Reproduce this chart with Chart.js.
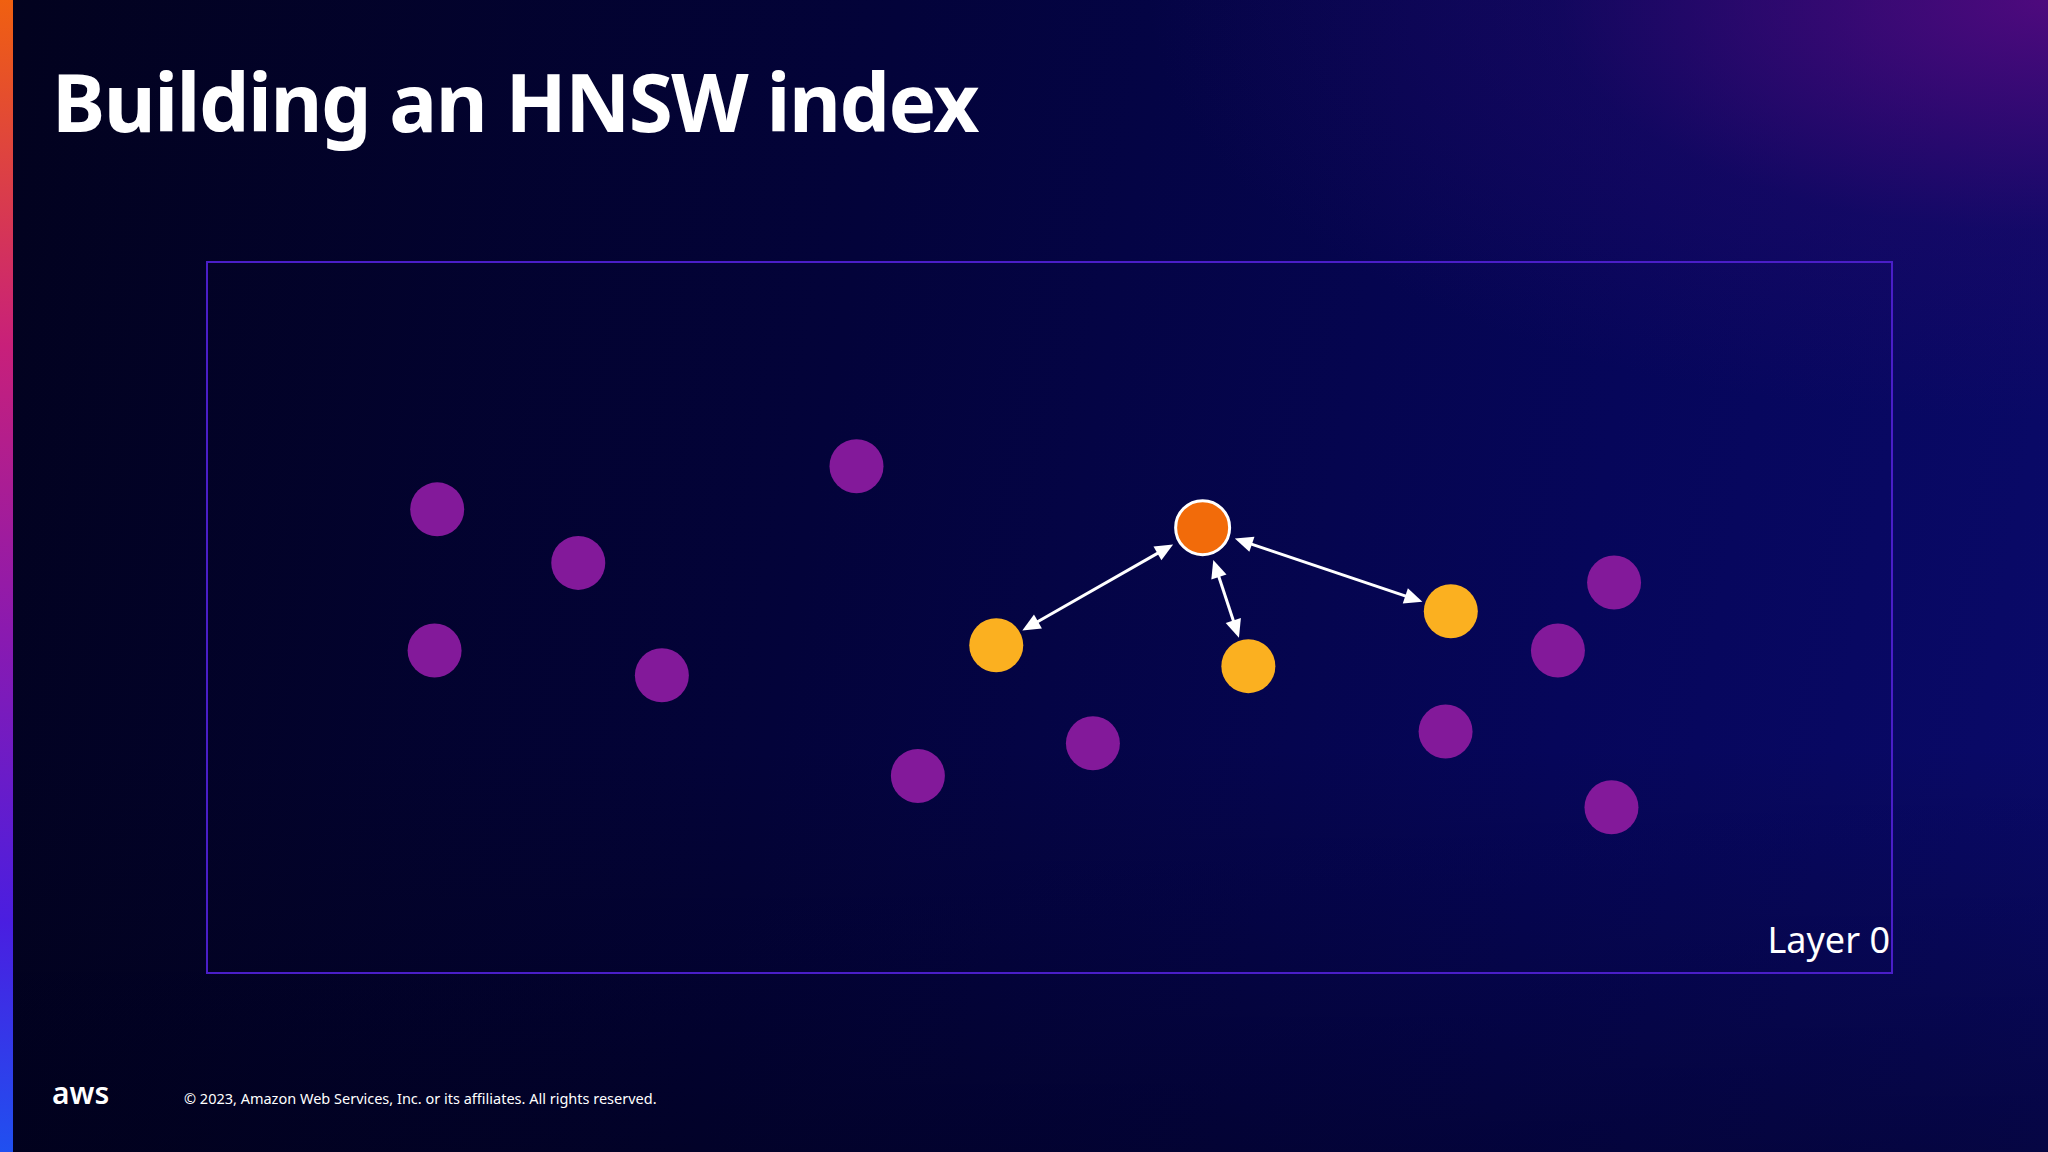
<!DOCTYPE html>
<html><head><meta charset="utf-8">
<script src="https://cdn.jsdelivr.net/npm/chart.js@4"></script>
<style>
html,body{margin:0;padding:0;width:2048px;height:1152px;overflow:hidden;font-family:"Noto Sans",sans-serif;}
body{background:linear-gradient(100deg,#02021e 0%,#03033a 40%,#06065a 75%,#0a0a6a 100%);position:relative;}
#bg2{position:absolute;inset:0;background:radial-gradient(ellipse 900px 420px at 100% 0%,rgba(90,10,130,0.85),rgba(40,10,110,0.35) 55%,rgba(0,0,0,0) 100%);}
#bg3{position:absolute;inset:0;background:linear-gradient(0deg,rgba(0,0,20,0.45),rgba(0,0,0,0) 35%);}
#strip{position:absolute;left:0;top:0;width:13px;height:1152px;background:linear-gradient(180deg,#f06010 0%,#c8207a 30%,#8a1ab0 55%,#4a1ee0 80%,#2050f0 100%);}
#title{position:absolute;left:52px;top:46px;color:#fff;font-weight:700;font-size:80px;letter-spacing:-1.5px;}
#box{position:absolute;left:206px;top:261px;width:1683px;height:709px;border:2px solid #4a1ec8;}
#layer{position:absolute;left:1700px;top:915px;width:190px;text-align:right;color:#fff;font-size:36px;}
#aws{position:absolute;left:52px;top:1072px;color:#fff;font-size:30px;font-weight:600;}
#copy{position:absolute;left:184px;top:1088px;color:#fff;font-size:14.5px;}
canvas{position:absolute;left:0;top:0;}
</style></head><body>
<div id="bg2"></div><div id="bg3"></div><div id="strip"></div>
<div id="title">Building an HNSW index</div>
<div id="box"></div>
<div id="layer">Layer 0</div>
<div id="aws">aws</div>
<div id="copy">© 2023, Amazon Web Services, Inc. or its affiliates. All rights reserved.</div>
<canvas id="c" width="2048" height="1152"></canvas>
<script>
const purpleX=[335,443,333,507,656,703,837,1236,1193,1107,1234];
const purpleY=[390,431,498,517,357,594,569,446,498,560,618];
const yellowX=[763,956,1111];
const yellowY=[494,510,468];
const orangeX=[921];
const orangeY=[404];
const pts=(xs,ys)=>xs.map((x,i)=>({x:x,y:ys[i]}));
const arrowPlugin={id:'arrows',afterDatasetsDraw(ch){
  const {ctx,scales:{x,y}}=ch;
  const ox=x.getPixelForValue(orangeX[0]),oy=y.getPixelForValue(orangeY[0]);
  ctx.save();ctx.strokeStyle='#fff';ctx.fillStyle='#fff';ctx.lineWidth=3;
  yellowX.forEach((yx,i)=>{
    const tx=x.getPixelForValue(yx),ty=y.getPixelForValue(yellowY[i]);
    const dx=tx-ox,dy=ty-oy,L=Math.hypot(dx,dy),ux=dx/L,uy=dy/L;
    const s={x:ox+ux*34,y:oy+uy*34},e={x:tx-ux*30,y:ty-uy*30};
    ctx.beginPath();ctx.moveTo(s.x+ux*12,s.y+uy*12);ctx.lineTo(e.x-ux*12,e.y-uy*12);ctx.stroke();
    const head=(p,dxn,dyn)=>{ctx.beginPath();ctx.moveTo(p.x,p.y);
      ctx.lineTo(p.x-dxn*18-dyn*8,p.y-dyn*18+dxn*8);ctx.lineTo(p.x-dxn*18+dyn*8,p.y-dyn*18-dxn*8);ctx.closePath();ctx.fill();};
    head(e,ux,uy);head(s,-ux,-uy);
  });
  ctx.restore();
}};
new Chart(document.getElementById('c'),{
  type:'scatter',
  data:{datasets:[
    {data:pts(purpleX,purpleY),backgroundColor:'#83199a',borderWidth:0,pointRadius:27,pointHoverRadius:27},
    {data:pts(yellowX,yellowY),backgroundColor:'#fbb020',borderWidth:0,pointRadius:27,pointHoverRadius:27},
    {data:pts(orangeX,orangeY),backgroundColor:'#f26b0a',borderColor:'#fff',borderWidth:3,pointRadius:27,pointHoverRadius:27}
  ]},
  options:{responsive:false,animation:false,events:[],
    layout:{padding:{left:206,top:261,right:157,bottom:180}},
    plugins:{legend:{display:false},tooltip:{enabled:false}},
    scales:{x:{type:'linear',min:158,max:1448,display:false},
            y:{type:'linear',min:200,max:744,reverse:true,display:false}}},
  plugins:[arrowPlugin]
});
</script></body></html>
